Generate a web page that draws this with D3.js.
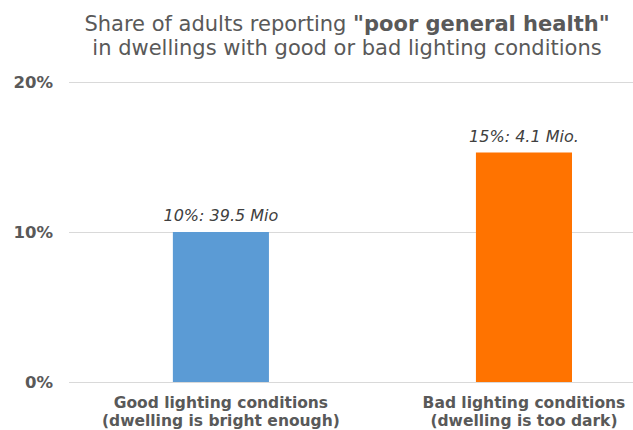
<!DOCTYPE html>
<html>
<head>
<meta charset="utf-8">
<script src="https://cdn.jsdelivr.net/npm/d3@7"></script>
<style>
  html, body { margin: 0; padding: 0; background: #fff; }
  svg { display: block; font-family: "DejaVu Sans", Verdana, sans-serif; }
</style>
</head>
<body>
<svg id="chart" width="633" height="430"></svg>
<script>
// Categories (two lines each), share values in percent, absolute counts
const categories = ["good", "bad"];
const categoryLines = [
  ["Good lighting conditions", "(dwelling is bright enough)"],
  ["Bad lighting conditions", "(dwelling is too dark)"]
];
const shareValues = [10.0, 15.3];
const countLabels = ["39.5 Mio", "4.1 Mio."];
const barColors = ["#5B9BD5", "#FF7300"];
const yTicks = [0, 10, 20];

const svg = d3.select("#chart");
const W = 633, H = 430;
const margin = { top: 82, right: 0, bottom: 48, left: 69 };

const x = d3.scaleBand()
  .domain(categories)
  .range([margin.left, W - margin.right])
  .paddingInner(0.683)
  .paddingOuter(0.272)
  .align(0.63);

const y = d3.scaleLinear()
  .domain([0, 20])
  .range([H - margin.bottom, margin.top]);

// Title
const titleX = 347;
const title = svg.append("text")
  .attr("x", titleX)
  .attr("y", 31)
  .attr("text-anchor", "middle")
  .attr("fill", "#595959")
  .style("font-size", "21px");
title.append("tspan").text("Share of adults reporting ");
title.append("tspan").attr("font-weight", "bold").text("\"poor general health\"");
svg.append("text")
  .attr("x", titleX)
  .attr("y", 55)
  .attr("text-anchor", "middle")
  .attr("fill", "#595959")
  .style("font-size", "21px")
  .text("in dwellings with good or bad lighting conditions");

// Gridlines and y labels
const yAxis = d3.axisLeft(y)
  .tickValues(yTicks)
  .tickSize(-(W - margin.left - margin.right))
  .tickPadding(16)
  .tickFormat(d => d + "%");
const gy = svg.append("g")
  .attr("transform", `translate(${margin.left},0)`)
  .call(yAxis);
gy.select(".domain").remove();
gy.selectAll(".tick line").attr("stroke", "#D9D9D9").attr("stroke-width", 1);
gy.selectAll(".tick text")
  .attr("fill", "#595959")
  .attr("font-weight", "bold")
  .style("font-size", "16.5px")
  .style("font-family", "\"DejaVu Sans\", Verdana, sans-serif");

// Bars
svg.append("g").selectAll("rect")
  .data(categories)
  .join("rect")
  .attr("x", d => x(d))
  .attr("width", x.bandwidth())
  .attr("y", (d, i) => y(shareValues[i]))
  .attr("height", (d, i) => y(0) - y(shareValues[i]))
  .attr("fill", (d, i) => barColors[i]);

// Value labels
svg.append("g").selectAll("text")
  .data(categories)
  .join("text")
  .attr("x", d => x(d) + x.bandwidth() / 2)
  .attr("y", (d, i) => y(shareValues[i]) - 11)
  .attr("text-anchor", "middle")
  .attr("fill", "#404040")
  .attr("font-style", "italic")
  .style("font-size", "16px")
  .text((d, i) => Math.round(shareValues[i]) + "%: " + countLabels[i]);

// Category labels
const cat = svg.append("g").selectAll("text")
  .data(categories)
  .join("text")
  .attr("text-anchor", "middle")
  .attr("fill", "#595959")
  .attr("font-weight", "bold")
  .style("font-size", "15.5px");
cat.each(function (d, i) {
  const t = d3.select(this);
  const cx = x(d) + x.bandwidth() / 2;
  categoryLines[i].forEach((line, j) => {
    t.append("tspan").attr("x", cx).attr("y", 408 + j * 17.5).text(line);
  });
});
</script>
</body>
</html>
